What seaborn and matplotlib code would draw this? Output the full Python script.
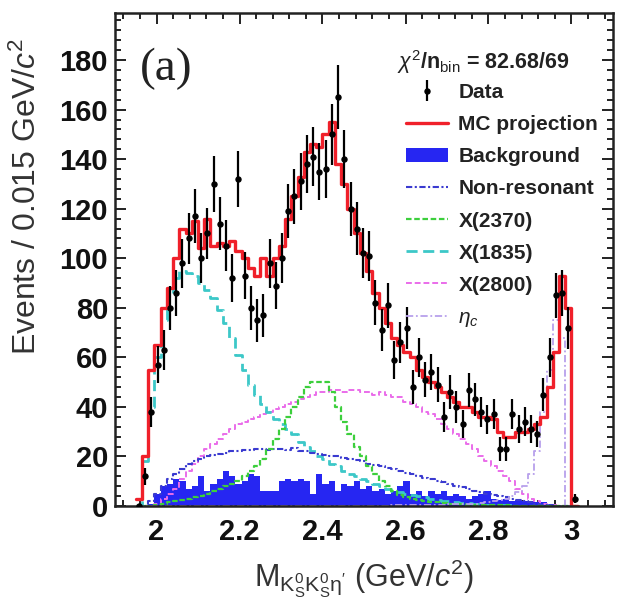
import numpy as np
import pandas as pd
import matplotlib
matplotlib.use("Agg")
import matplotlib.pyplot as plt
import seaborn as sns
from matplotlib.lines import Line2D
from matplotlib.patches import Patch
from matplotlib.ticker import MultipleLocator

# ---------------- data (bin width 0.015 GeV, first edge 1.95) ----------------
bin_lo = 1.95
bin_w = 0.015
data = [0, 12, 38, 57, 63, 80, 86, 98, 108, 117, 100, 110, 130, 114, 105, 92,
        132, 93, 80, 75, 77, 98, 89, 100, 119, 125, 131, 138, 141, 135, 136, 150,
        165, 140, 120, 112, 102, 101, 82, 71, 81, 59, 66, 72, 48, 60, 51, 54,
        49, 36, 46, 40, 33, 47, 43, 38, 35, 37, 23, 23, 37, 31, 34, 31,
        29, 45, 60, 85, 86, 72, 3]
mc = [3, 20, 55, 65, 80, 88, 100, 112, 110, 115, 104, 116, 105, 106, 105, 107,
      103, 100, 96, 93, 100, 93, 100, 105, 116, 125, 133, 143, 146, 145, 150, 155,
      138, 130, 120, 110, 102, 95, 86, 80, 74, 68, 65, 62, 60, 55, 52, 50,
      48, 46, 44, 42, 40, 40, 38, 36, 36, 35, 30, 28, 28, 30, 30, 31,
      33, 36, 48, 62, 93, 80, 0]
background = [0, 0, 1, 5, 8, 9, 11, 10, 7, 8, 12, 6, 9, 11, 14, 12,
              9, 10, 13, 12, 6, 6, 6, 10, 11, 10, 11, 10, 5, 13, 9, 10,
              6, 9, 8, 10, 7, 8, 6, 7, 5, 6, 8, 10, 5, 6, 4, 6,
              5, 6, 4, 5, 4, 3, 4, 5, 6, 3, 2.5, 3, 2, 2.5, 2, 2,
              1.5, 1.5, 1, 0.5, 0.5, 0, 0]
nonres = [0, 0, 2, 5, 8, 11, 13, 15, 17, 18, 19, 20, 20.5, 21, 21.5, 22,
          22, 22.5, 22.5, 23, 23, 22.5, 23, 23, 22.5, 23.5, 22, 22, 21.5, 21, 20.5, 20,
          20, 19.5, 19, 18.5, 18, 17, 16.5, 16, 15.5, 15, 14, 13.5, 13, 12, 11.5, 11,
          10, 9.5, 9, 8, 7.5, 7, 6, 5.5, 5, 4.5, 4, 3.5, 3, 2.5, 2, 1.5,
          1, 0.5, 0.3, 0.2, 0.1, 0, 0]
x2370 = [0, 0, 0, 0.5, 1, 1.5, 2, 2.5, 3, 3.5, 4, 5, 6, 7, 8, 9,
         10, 12, 14, 16, 19, 23, 27, 31, 36, 40, 44, 48, 50, 50, 50, 46,
         40, 34, 29, 24, 20, 16, 13, 10, 8, 6, 4.5, 3.5, 3, 2.5, 2, 1.7,
         1.5, 1.2, 1, 0.8, 0.7, 0.6, 0.5, 0.5, 0.4, 0.4, 0.3, 0.3, 0.2, 0.2, 0.2, 0.1,
         0.1, 0.1, 0.1, 0, 0, 0, 0]
x1835 = [0, 18, 40, 60, 75, 85, 92, 95, 94, 93, 90, 87, 84, 79, 74, 68,
         61, 55, 49, 45, 41, 38, 35, 33, 31, 29, 26, 24, 22, 20, 19, 17,
         16, 14, 13, 12, 11, 10, 9, 8, 7, 6, 5.5, 5, 4.5, 4, 3.5, 3,
         2.6, 2.2, 1.9, 1.6, 1.3, 1.1, 0.9, 0.7, 0.6, 0.5, 0.4, 0.3, 0.3, 0.2, 0.2, 0.1,
         0.1, 0.1, 0.1, 0, 0, 0, 0]
x2800 = [0, 0, 0, 1, 3, 5, 7, 11, 14, 17, 20, 23, 25, 27, 29, 31,
         33, 34, 35, 36, 37, 38, 39, 40, 41, 42, 43, 44, 45, 46, 46, 47,
         47, 46, 47, 47, 46, 46, 45, 46, 45, 44, 44, 42, 41, 40, 38, 37,
         35, 33, 31, 29, 27, 25, 23, 20, 18, 16, 14, 12, 10, 7, 5, 3,
         2, 1, 0.5, 0.3, 0.2, 0.1, 0]
etac = [0, 0, 0, 0, 0, 0, 0, 0, 0, 0, 0, 0, 0, 0, 0, 0,
        0, 0, 0, 0, 0, 0, 0, 0, 0, 0, 0, 0, 0, 0, 0, 0,
        0.1, 0.1, 0.1, 0.1, 0.1, 0.2, 0.2, 0.2, 0.2, 0.3, 0.3, 0.3, 0.4, 0.4, 0.5, 0.5,
        0.6, 0.6, 0.7, 0.8, 0.9, 1, 1, 1.2, 1.5, 2, 2.5, 3, 4, 5.5, 8, 13,
        22, 38, 55, 75, 68, 0, 0]

labels = ["Data", "MC projection", "Background", "Non-resonant",
          "X(2370)", "X(1835)", "X(2800)", r"$\eta_{c}$"]
xticks = [2.0, 2.2, 2.4, 2.6, 2.8, 3.0]
xtick_labels = ["2", "2.2", "2.4", "2.6", "2.8", "3"]
yticks = [0, 20, 40, 60, 80, 100, 120, 140, 160, 180]

n = len(data)
edges = [float(v) for v in bin_lo + bin_w * np.arange(n + 1)]
centers = [0.5 * (edges[i] + edges[i + 1]) for i in range(n)]
df = pd.DataFrame({"x": centers, "data": data, "mc": mc, "bkg": background,
                   "nonres": nonres, "x2370": x2370, "x1835": x1835,
                   "x2800": x2800, "etac": etac})

# ---------------- style ----------------
sns.set_theme(style="ticks")
plt.rcParams["font.family"] = ["Liberation Sans", "DejaVu Sans"]
plt.rcParams["mathtext.fontset"] = "custom"
plt.rcParams["mathtext.rm"] = "Liberation Sans"
plt.rcParams["mathtext.it"] = "Liberation Sans:italic"
plt.rcParams["mathtext.bf"] = "Liberation Sans:bold"

col_red = "#f0202a"
col_bkg = "#2626f2"
col_nonres = "#3a3ad0"
col_green = "#3ccf3c"
col_cyan = "#3cc8c8"
col_mag = "#ea6cea"
col_etac = "#b8a0ec"

fig = plt.figure(figsize=(6.2, 6.05), dpi=100)
ax = fig.add_axes([115 / 620, 1 - 506 / 605, 498 / 620, 493 / 605])


def hist_step(key, **kw):
    sns.histplot(x=df["x"].to_numpy(), weights=df[key].to_numpy(), bins=edges,
                 element="step", ax=ax, **kw)


# background (filled histogram)
hist_step("bkg", fill=True, color=col_bkg, alpha=1.0, linewidth=0)

# component curves
comp = [("x2800", col_mag, (0, (3, 1.5)), 1.4),
        ("x1835", col_cyan, (0, (4, 2)), 2.0),
        ("nonres", col_nonres, (0, (3, 1.2, 1, 1.2)), 1.5),
        ("x2370", col_green, (0, (2.5, 1.2)), 1.6),
        ("etac", col_etac, (0, (4, 1.5, 1, 1.5)), 1.3)]
for key, c, ls, lw in comp:
    hist_step(key, fill=False, color=c, linestyle=ls, linewidth=lw)

# MC projection
hist_step("mc", fill=False, color=col_red, linewidth=2.4)

# data points
err = np.sqrt(np.asarray(data, dtype=float))
eb = ax.errorbar(df["x"], df["data"], yerr=err, fmt="o", color="black",
                 markersize=3.6, elinewidth=1.6, capsize=0, zorder=5)

ax.set_xlim(1.9, 3.1)
ax.set_ylim(0, 199)
ax.set_xticks(xticks)
ax.set_xticklabels(xtick_labels)
ax.set_yticks(yticks)
ax.xaxis.set_minor_locator(MultipleLocator(0.04))
ax.yaxis.set_minor_locator(MultipleLocator(4))
ax.tick_params(which="both", direction="in", top=True, right=True,
               width=1.4, color="#222222")
ax.tick_params(which="major", length=8)
ax.tick_params(which="minor", length=4)
ax.tick_params(axis="both", labelsize=21)
ax.tick_params(axis="x", pad=9)
ax.tick_params(axis="y", pad=5)
for lab in ax.get_xticklabels() + ax.get_yticklabels():
    lab.set_fontweight("bold")
    lab.set_color("#111111")
for sp in ax.spines.values():
    sp.set_linewidth(1.8)
    sp.set_color("#222222")

ax.set_xlabel(r"M$_{\mathrm{K_S^0K_S^0\eta'}}$ (GeV/$c^2$)", fontsize=22,
              color="#333333")
ax.set_ylabel(r"Events / 0.015 GeV/$c^2$", fontsize=23, color="#333333")
ax.xaxis.set_label_coords(0.5, -0.105)
ax.yaxis.set_label_coords(-0.145, 0.628)

ax.text(0.05, 0.886, "(a)", transform=ax.transAxes, fontsize=34,
        family=["Liberation Serif", "DejaVu Serif"], va="center", ha="left",
        color="#222222")
ax.text(0.566, 0.90, r"$\chi^2$/n$_{\mathrm{bin}}$ = 82.68/69", transform=ax.transAxes,
        fontsize=15.5, fontweight="bold", va="center", ha="left", color="#222222")

handles = [eb,
           Line2D([], [], color=col_red, lw=2.4),
           Patch(facecolor=col_bkg, edgecolor="none"),
           Line2D([], [], color=col_nonres, lw=1.5, ls=(0, (3, 1.2, 1, 1.2))),
           Line2D([], [], color=col_green, lw=1.6, ls=(0, (2.5, 1.2))),
           Line2D([], [], color=col_cyan, lw=2.0, ls=(0, (4, 2))),
           Line2D([], [], color=col_mag, lw=1.4, ls=(0, (3, 1.5))),
           Line2D([], [], color=col_etac, lw=1.3, ls=(0, (4, 1.5, 1, 1.5)))]
leg = ax.legend(handles, labels, loc="upper left", bbox_to_anchor=(0.585, 0.858),
                frameon=False, prop={"weight": "bold", "size": 15},
                handlelength=2.0, handletextpad=0.5, labelspacing=0.63,
                borderaxespad=0, borderpad=0)
for t in leg.get_texts():
    t.set_color("#222222")

fig.savefig("out.png", dpi=100)
